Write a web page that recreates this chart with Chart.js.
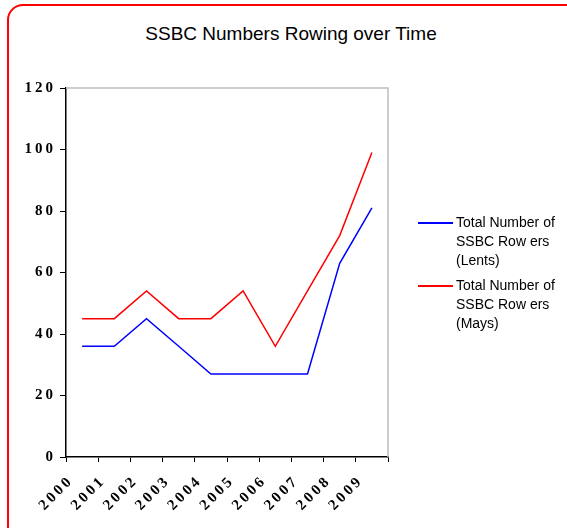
<!DOCTYPE html>
<html>
<head>
<meta charset="utf-8">
<script src="https://cdn.jsdelivr.net/npm/chart.js@4"></script>
<style>
  body { margin: 0; background: #fff; }
  #wrap { position: relative; width: 567px; height: 528px; overflow: hidden; }
  #frame { position: absolute; left: 7px; top: 4px; width: 580px; height: 560px;
           border: 2px solid #ff0000; border-radius: 16px; box-sizing: border-box; }
  #title { position: absolute; left: 91px; width: 400px; top: 23px; text-align: center;
           font: 19px "Liberation Sans", Arial, sans-serif; color: #000; }
  .key-item { position: absolute; left: 418px; font: 14px "Liberation Sans", Arial, sans-serif;
              line-height: 19px; color: #000; }
  .key-item span { position: absolute; left: 0; top: 9px; width: 35px; height: 1.5px; }
  .key-item p { margin: 0 0 0 38px; white-space: nowrap; }
  canvas { position: absolute; left: 0; top: 0; }
</style>
</head>
<body>
<div id="wrap">
  <div id="frame"></div>
  <div id="title">SSBC Numbers Rowing over Time</div>
  <canvas id="rowChart" width="567" height="528"></canvas>
  <div id="chart-legend"></div>
</div>
<script>
// data
const years = ['2000', '2001', '2002', '2003', '2004', '2005', '2006', '2007', '2008', '2009'];
const lents = [36, 36, 45, 36, 27, 27, 27, 27, 63, 81];
const mays = [45, 45, 54, 45, 45, 54, 36, 54, 72, 99];
const seriesNames = [['Total Number of', 'SSBC Row ers', '(Lents)'], ['Total Number of', 'SSBC Row ers', '(Mays)']];
const lineColor = ['#0000ff', '#ff0000'];

// spread digits a little, like the original axis font
function spaced(v) { return String(v).split('').join('\u2009'); }

const tickFont = { family: '"Liberation Serif", "DejaVu Serif", serif', size: 15, weight: 'bold' };

// light grey top and right edges of the plot area
const plotFrame = {
    id: 'plotFrame',
    beforeDatasetsDraw(chart) {
        const a = chart.chartArea, ctx = chart.ctx;
        ctx.save();
        ctx.strokeStyle = '#bdbdbd';
        ctx.lineWidth = 1.5;
        ctx.beginPath();
        ctx.moveTo(a.left, a.top);
        ctx.lineTo(a.right, a.top);
        ctx.lineTo(a.right, a.bottom);
        ctx.stroke();
        ctx.restore();
    }
};

var ctx = document.getElementById('rowChart').getContext('2d');
var myChart = new Chart(ctx, {
    type: 'line',
    data: {
        labels: years,
        datasets: [
            { label: 'Lents', data: lents, borderColor: lineColor[0], borderWidth: 1.5, pointRadius: 0, tension: 0 },
            { label: 'Mays', data: mays, borderColor: lineColor[1], borderWidth: 1.5, pointRadius: 0, tension: 0 }
        ]
    },
    options: {
        responsive: false,
        animation: false,
        layout: { padding: { left: 0, top: 88, right: 179, bottom: 0 } },
        plugins: { legend: { display: false }, tooltip: { enabled: false } },
        scales: {
            x: {
                offset: true,
                grid: { offset: true, drawOnChartArea: false, tickLength: 5, color: '#000', lineWidth: 1 },
                border: { color: '#000', width: 1.5 },
                ticks: { color: '#000', font: tickFont, minRotation: 45, maxRotation: 45, autoSkip: false,
                         labelOffset: -13, padding: 12, callback: function (v, i) { return spaced(years[i]); } },
                afterFit: function (s) { s.height = 71; }
            },
            y: {
                min: 0, max: 120,
                grid: { drawOnChartArea: false, tickLength: 6, color: '#000', lineWidth: 1 },
                border: { color: '#000', width: 1.5 },
                ticks: { stepSize: 20, color: '#000', font: tickFont, padding: 7, callback: function (v) { return spaced(v); } },
                afterFit: function (s) { s.width = 66; }
            }
        }
    },
    plugins: [plotFrame]
});

function buildLegend() {
    const legendChart = document.getElementById('chart-legend');
    const tops = [213, 276];
    seriesNames.forEach(function (lines, i) {
        const legendItem = document.createElement('div');
        legendItem.setAttribute('class', 'key-item');
        legendItem.style.top = tops[i] + 'px';
        const swatch = document.createElement('span');
        swatch.style.backgroundColor = lineColor[i];
        legendItem.appendChild(swatch);
        const labelTitle = document.createElement('p');
        labelTitle.innerHTML = lines.join('<br>');
        legendItem.appendChild(labelTitle);
        legendChart.appendChild(legendItem);
    });
}
buildLegend();
</script>
</body>
</html>
